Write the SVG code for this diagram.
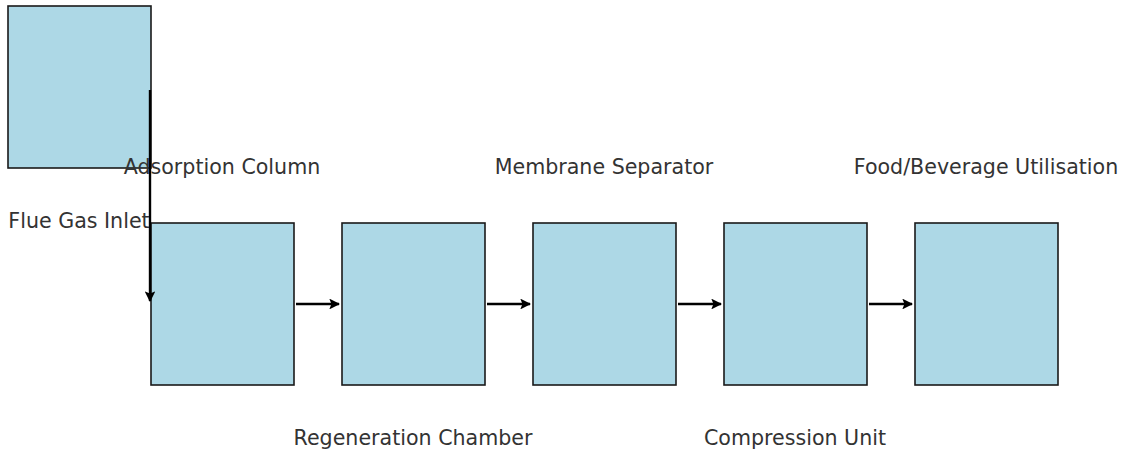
<svg xmlns="http://www.w3.org/2000/svg" width="1123" height="450" viewBox="0 0 1123 450">
<style>
.box{fill:#ADD8E6;stroke:#1a1a1a;stroke-width:1.6}
.lbl{font-family:"DejaVu Sans",sans-serif;font-size:20.6px;fill:#333333;text-anchor:middle}
.edge{stroke:#000;stroke-width:2.4;fill:none}
</style>
<defs>
<marker id="ah" viewBox="0 0 10 10" refX="9" refY="5" markerWidth="4.5" markerHeight="4.5" orient="auto" markerUnits="strokeWidth">
<path d="M0,0 L10,5 L0,10 L2,5 Z" fill="#000"/>
</marker>
</defs>
<rect width="1123" height="450" fill="#ffffff"/>
<g id="flue-gas-inlet">
<rect class="box" x="8" y="6" width="143" height="162"/>
<text class="lbl" x="79" y="228">Flue Gas Inlet</text>
</g>
<g id="adsorption-column">
<rect class="box" x="151" y="223" width="143" height="162"/>
<text class="lbl" x="222" y="174">Adsorption Column</text>
</g>
<g id="regeneration-chamber">
<rect class="box" x="342" y="223" width="143" height="162"/>
<text class="lbl" x="413" y="445">Regeneration Chamber</text>
</g>
<g id="membrane-separator">
<rect class="box" x="533" y="223" width="143" height="162"/>
<text class="lbl" x="604" y="174">Membrane Separator</text>
</g>
<g id="compression-unit">
<rect class="box" x="724" y="223" width="143" height="162"/>
<text class="lbl" x="795" y="445">Compression Unit</text>
</g>
<g id="food-beverage-utilisation">
<rect class="box" x="915" y="223" width="143" height="162"/>
<text class="lbl" x="986" y="174">Food/Beverage Utilisation</text>
</g>
<g id="connectors">
<line class="edge" x1="150" y1="90" x2="150" y2="301" marker-end="url(#ah)"/>
<line class="edge" x1="296" y1="304" x2="339" y2="304" marker-end="url(#ah)"/>
<line class="edge" x1="487" y1="304" x2="530" y2="304" marker-end="url(#ah)"/>
<line class="edge" x1="678" y1="304" x2="721" y2="304" marker-end="url(#ah)"/>
<line class="edge" x1="869" y1="304" x2="912" y2="304" marker-end="url(#ah)"/>
</g>
</svg>
